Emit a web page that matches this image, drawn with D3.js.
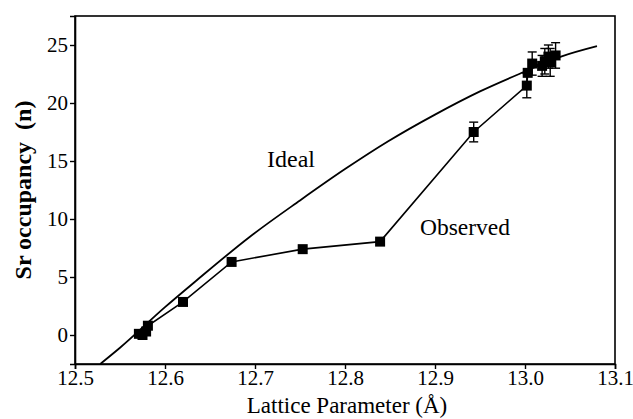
<!DOCTYPE html>
<html>
<head>
<meta charset="utf-8">
<script src="https://cdn.jsdelivr.net/npm/d3@7"></script>
<style>
  html, body { margin: 0; padding: 0; background: #fff; }
  svg { display: block; }
  text { font-family: "Liberation Serif", "Times New Roman", serif; fill: #000; }
</style>
</head>
<body>
<svg id="chart" width="633" height="419"></svg>
<script>
// Observed Sr occupancy versus lattice parameter
const obsLattice = [12.571, 12.575, 12.579, 12.581, 12.620, 12.674, 12.753, 12.839, 12.943,
                    13.002, 13.003, 13.008, 13.019, 13.022, 13.026, 13.028, 13.034];
const obsOccupancy = [0.1, 0.0, 0.3, 0.8, 2.85, 6.3, 7.4, 8.05, 17.5,
                      21.5, 22.6, 23.4, 23.2, 23.6, 24.0, 23.5, 24.1];
const obsError = [0, 0, 0, 0, 0, 0, 0, 0, 0.85,
                  1.05, 0, 1.0, 0.9, 1.1, 1.0, 1.2, 1.1];

// Ideal occupancy curve
const idealLattice = [12.528, 12.55, 12.60, 12.635, 12.694, 12.75, 12.80, 12.848, 12.90, 12.95, 12.998, 13.04, 13.08];
const idealOccupancy = [-2.5, -1.1, 2.4, 4.7, 8.45, 11.6, 14.3, 16.7, 19.0, 21.0, 22.65, 24.0, 24.9];

const xTicks = [12.5, 12.6, 12.7, 12.8, 12.9, 13.0, 13.1];
const yTicks = [0, 5, 10, 15, 20, 25];

const FONT = '"Liberation Serif", "Times New Roman", serif';
const svg = d3.select("#chart");
const margin = { left: 75, right: 18, top: 16, bottom: 55 };
const W = 633, H = 419;

const x = d3.scaleLinear().domain([12.5, 13.1]).range([margin.left, W - margin.right]);
const y = d3.scaleLinear().domain([-2.5, 27.5]).range([H - margin.bottom, margin.top]);

// frame
svg.append("rect")
  .attr("x", x(12.5)).attr("y", y(27.5))
  .attr("width", x(13.1) - x(12.5)).attr("height", y(-2.5) - y(27.5))
  .attr("fill", "none").attr("stroke", "#000").attr("stroke-width", 1.6);

// axes
const xAxis = svg.append("g")
  .attr("transform", `translate(0,${y(-2.5)})`)
  .call(d3.axisBottom(x).tickValues(xTicks).tickFormat(d3.format(".1f")).tickSize(5).tickPadding(1));
const yAxis = svg.append("g")
  .attr("transform", `translate(${x(12.5)},0)`)
  .call(d3.axisLeft(y).tickValues(yTicks).tickFormat(d3.format("d")).tickSize(5).tickPadding(2));

[xAxis, yAxis].forEach(g => {
  g.attr("font-family", FONT).attr("font-size", 21);
  g.select(".domain").attr("stroke", "#000").attr("stroke-width", 1.6);
  g.selectAll(".tick line").attr("stroke", "#000").attr("stroke-width", 1.4);
  g.selectAll(".tick text")
    .style("font-family", FONT)
    .style("font-size", "21px")
    .attr("fill", "#000");
});

// axis titles
svg.append("text")
  .attr("x", (x(12.5) + x(13.1)) / 2 + 2).attr("y", 413)
  .attr("text-anchor", "middle")
  .style("font-size", "23px")
  .text("Lattice Parameter (Å)");

svg.append("text")
  .attr("transform", `translate(31,${(y(-2.5) + y(27.5)) / 2}) rotate(-90)`)
  .attr("text-anchor", "middle")
  .style("font-size", "24px").style("font-weight", "bold")
  .attr("xml:space", "preserve")
  .text("Sr occupancy  (n)");

// ideal curve
const ideal = idealLattice.map((d, i) => [d, idealOccupancy[i]]);
svg.append("path")
  .datum(ideal)
  .attr("fill", "none").attr("stroke", "#000").attr("stroke-width", 1.8)
  .attr("d", d3.line().x(d => x(d[0])).y(d => y(d[1])).curve(d3.curveMonotoneX));

// observed line
const obs = obsLattice.map((d, i) => ({ x: d, y: obsOccupancy[i], e: obsError[i] }));
svg.append("path")
  .datum(obs)
  .attr("fill", "none").attr("stroke", "#000").attr("stroke-width", 1.6)
  .attr("d", d3.line().x(d => x(d.x)).y(d => y(d.y)));

// error bars
const eb = svg.append("g").attr("stroke", "#000").attr("stroke-width", 1.4);
obs.filter(d => d.e > 0).forEach(d => {
  const cx = x(d.x);
  eb.append("line").attr("x1", cx).attr("x2", cx).attr("y1", y(d.y - d.e)).attr("y2", y(d.y + d.e));
  [d.y - d.e, d.y + d.e].forEach(v => {
    eb.append("line").attr("x1", cx - 4.5).attr("x2", cx + 4.5).attr("y1", y(v)).attr("y2", y(v));
  });
});

// markers
const s = 10;
svg.append("g").selectAll("rect")
  .data(obs).join("rect")
  .attr("x", d => x(d.x) - s / 2).attr("y", d => y(d.y) - s / 2)
  .attr("width", s).attr("height", s).attr("fill", "#000");

// series labels
svg.append("text").attr("x", 267).attr("y", 167).style("font-size", "24px").text("Ideal");
svg.append("text").attr("x", 420).attr("y", 235).style("font-size", "23.5px").text("Observed");
</script>
</body>
</html>
